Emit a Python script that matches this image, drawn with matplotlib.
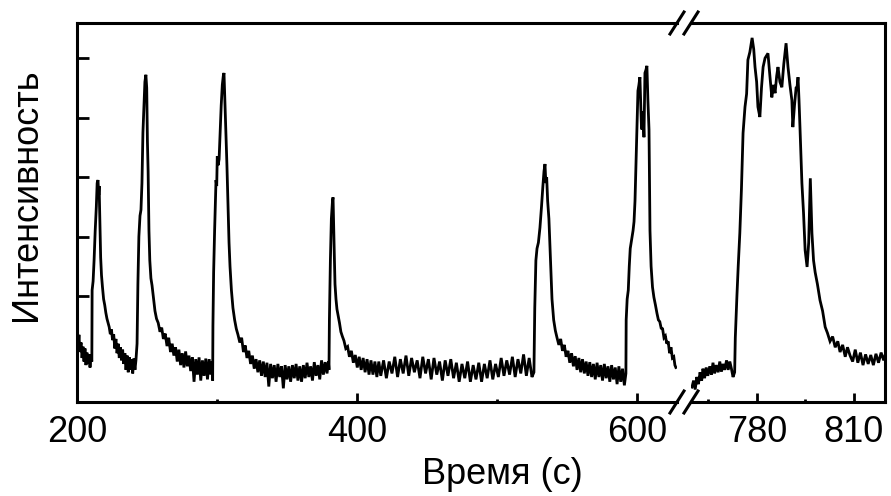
import matplotlib
matplotlib.use("Agg")
import matplotlib.pyplot as plt
from matplotlib.lines import Line2D

plt.rcParams['font.family'] = ['Liberation Sans', 'DejaVu Sans']

# ---- data: (time s, intensity a.u.) ----
left_trace = [
    (200.0, 1.30), (200.7, 1.12), (201.4, 1.35), (202.1, 1.06), (202.9, 1.22), (203.6, 0.96),
    (204.3, 1.15), (205.0, 0.90), (205.7, 1.12), (206.4, 0.84), (207.1, 1.05), (207.9, 0.86),
    (208.6, 1.02), (209.3, 0.80), (210.0, 0.98), (210.6, 0.90),
    (210.8, 2.10), (211.5, 2.25), (212.2, 2.60), (213.0, 3.10), (213.8, 3.50), (214.4, 3.90),
    (215.0, 3.95), (215.5, 3.70), (215.8, 3.85), (216.4, 3.20), (216.9, 2.65), (217.5, 2.35),
    (218.2, 2.15), (219.0, 1.95), (219.8, 1.85), (220.6, 1.72), (221.4, 1.62), (222.2, 1.55),
    (223.0, 1.48), (223.8, 1.36), (224.6, 1.44), (225.4, 1.26), (226.2, 1.36), (227.0, 1.12),
    (227.8, 1.28), (228.6, 1.04), (229.4, 1.20), (230.2, 0.96), (231.0, 1.14), (231.8, 0.92),
    (232.6, 1.10), (233.4, 0.86), (234.2, 1.04), (235.0, 0.76), (235.8, 1.00), (236.6, 0.72),
    (237.4, 0.97), (238.2, 0.76), (239.0, 0.94), (239.8, 0.70), (240.6, 0.95), (241.4, 0.76),
    (242.1, 0.92), (242.9, 1.20),
    (243.5, 2.20), (244.2, 3.00), (245.0, 3.35), (245.7, 3.45), (246.4, 3.90), (247.1, 4.75),
    (247.8, 5.20), (248.5, 5.60), (249.2, 5.72), (249.8, 5.50), (250.3, 4.60), (250.8, 4.10),
    (251.4, 3.10), (252.0, 2.60), (252.8, 2.30), (253.6, 2.18), (254.6, 1.98), (255.7, 1.75),
    (256.8, 1.62), (258.0, 1.55), (259.3, 1.40), (260.5, 1.47), (261.7, 1.28), (263.0, 1.37),
    (264.3, 1.16), (265.5, 1.30), (266.8, 1.06), (268.0, 1.20), (269.2, 1.00), (270.4, 1.14),
    (271.6, 0.90), (272.8, 1.10), (274.0, 0.84), (275.2, 1.04), (276.4, 0.80), (277.6, 1.07),
    (278.8, 0.82), (280.0, 1.00), (281.2, 0.74), (282.4, 0.97), (283.6, 0.56), (284.8, 0.94),
    (286.0, 0.68), (287.2, 0.97), (288.4, 0.58), (289.6, 0.92), (290.8, 0.66), (292.0, 0.95),
    (293.2, 0.60), (294.4, 0.94), (295.6, 0.68), (296.6, 0.90), (296.9, 0.58),
    (297.1, 1.50), (297.6, 2.40), (298.3, 3.10), (299.0, 3.70), (299.3, 3.95), (299.8, 3.85),
    (300.2, 4.35), (300.8, 4.20), (301.5, 4.30), (302.2, 4.70), (303.0, 5.20), (303.8, 5.55),
    (304.5, 5.70), (305.0, 5.75), (305.6, 5.30), (306.3, 4.80), (307.1, 4.20), (307.9, 3.50),
    (308.6, 2.90), (309.3, 2.50), (310.3, 2.10), (311.4, 1.80), (312.6, 1.60), (313.8, 1.45),
    (315.0, 1.35), (316.3, 1.22), (317.6, 1.30), (318.9, 1.06), (320.2, 1.17), (321.4, 0.96),
    (322.7, 1.08), (324.0, 0.86), (325.3, 1.00), (326.6, 0.78), (327.9, 0.94), (329.2, 0.72),
    (330.5, 0.92), (331.8, 0.66), (333.1, 0.90), (334.4, 0.64), (335.7, 0.88), (337.0, 0.48),
    (338.3, 0.86), (339.6, 0.62), (340.9, 0.84), (342.2, 0.56), (343.5, 0.86), (344.8, 0.64),
    (346.1, 0.82), (347.4, 0.45), (348.7, 0.84), (350.0, 0.60), (351.3, 0.82), (352.6, 0.56),
    (353.9, 0.84), (355.2, 0.62), (356.5, 0.86), (357.8, 0.58), (359.1, 0.82), (360.4, 0.56),
    (361.7, 0.84), (363.0, 0.62), (364.3, 0.88), (365.6, 0.64), (366.9, 0.82), (368.2, 0.58),
    (369.5, 0.89), (370.8, 0.66), (372.1, 0.84), (373.4, 0.60), (374.7, 0.92), (376.0, 0.68),
    (377.3, 0.89), (378.6, 0.70), (379.6, 0.90), (380.0, 0.76),
    (380.3, 1.60), (381.0, 2.60), (381.7, 3.30), (382.5, 3.60), (382.9, 3.66), (383.4, 3.10),
    (383.8, 2.70), (384.3, 2.20), (385.0, 1.95), (385.7, 1.78), (386.5, 1.68), (387.5, 1.55),
    (388.5, 1.40), (389.6, 1.32), (390.7, 1.25), (392.0, 1.12), (393.3, 1.15), (394.6, 0.98),
    (396.0, 1.08), (397.4, 0.88), (398.8, 1.01), (400.2, 0.80), (401.6, 0.98), (403.0, 0.76),
    (404.4, 0.96), (405.8, 0.72), (407.2, 0.94), (408.6, 0.68), (410.0, 0.92), (411.4, 0.68),
    (412.8, 0.90), (414.2, 0.64), (415.6, 0.90),
    (417.0, 0.66), (419.0, 0.92), (421.0, 0.62), (423.0, 0.90), (425.0, 0.70), (427.0, 0.98),
    (429.0, 0.64), (431.0, 0.94), (433.0, 0.70), (435.0, 1.00), (437.0, 0.66), (439.0, 0.96),
    (441.0, 0.72), (443.0, 0.92), (445.0, 0.62), (447.0, 0.98), (449.0, 0.70), (451.0, 0.94),
    (453.0, 0.60), (455.0, 0.96), (457.0, 0.68), (459.0, 0.90), (461.0, 0.58), (463.0, 0.92),
    (465.0, 0.66), (467.0, 0.94), (469.0, 0.62), (471.0, 0.88), (473.0, 0.56), (475.0, 0.86),
    (477.0, 0.62), (479.0, 0.90), (481.0, 0.56), (483.0, 0.84), (485.0, 0.60), (487.0, 0.88),
    (489.0, 0.56), (491.0, 0.86), (493.0, 0.62), (495.0, 0.92), (497.0, 0.60), (499.0, 0.86),
    (501.0, 0.64), (503.0, 0.96), (505.0, 0.66), (507.0, 0.92), (509.0, 0.68), (511.0, 0.98),
    (513.0, 0.64), (515.0, 0.94), (517.0, 0.70), (519.0, 1.02), (521.0, 0.66), (523.0, 0.96),
    (525.0, 0.64), (526.4, 0.72),
    (527.0, 1.80), (527.8, 2.60), (528.6, 2.80), (529.6, 2.90), (530.7, 3.15), (531.8, 3.50),
    (532.8, 3.85), (533.6, 4.10), (534.3, 4.22), (534.9, 3.90), (535.5, 4.00), (536.2, 3.60),
    (537.1, 3.30), (538.2, 2.60), (539.3, 1.95), (540.5, 1.60), (541.7, 1.42), (542.9, 1.30),
    (544.2, 1.18), (545.5, 1.28), (546.8, 1.08), (548.1, 1.18), (549.4, 0.98), (550.7, 1.08),
    (552.0, 0.88), (553.3, 1.04), (554.6, 0.82), (555.9, 0.99), (557.2, 0.76), (558.5, 0.96),
    (559.8, 0.72), (561.1, 0.94), (562.4, 0.70), (563.7, 0.90), (565.0, 0.66), (566.3, 0.89),
    (567.6, 0.64), (568.9, 0.86), (570.2, 0.60), (571.5, 0.88), (572.8, 0.64), (574.1, 0.84),
    (575.4, 0.58), (576.7, 0.86), (578.0, 0.62), (579.3, 0.82), (580.6, 0.56), (581.9, 0.84),
    (583.2, 0.60), (584.5, 0.80), (585.8, 0.52), (587.1, 0.82), (588.4, 0.56), (589.7, 0.78),
    (591.0, 0.50), (592.1, 0.70),
    (592.3, 1.60), (593.0, 1.95), (593.8, 2.10), (594.5, 2.50), (595.2, 2.80), (596.2, 2.95),
    (597.2, 3.10), (597.9, 3.25), (598.6, 3.60), (599.3, 4.20), (600.0, 4.80), (600.7, 5.45),
    (601.4, 5.55), (602.1, 5.68), (602.7, 5.20), (603.2, 4.85), (603.6, 4.80), (604.3, 5.10),
    (605.0, 4.67), (605.7, 5.75), (606.4, 5.80), (607.1, 5.87), (607.8, 5.30), (608.6, 4.80),
    (609.3, 3.10), (610.1, 2.50), (611.1, 2.15), (612.1, 1.98), (613.2, 1.85), (614.3, 1.71),
    (615.3, 1.60), (616.3, 1.57), (617.3, 1.46), (618.3, 1.45), (619.3, 1.30), (620.3, 1.33),
    (621.3, 1.20), (622.3, 1.24), (623.3, 1.04), (624.3, 1.14), (625.3, 0.96), (626.3, 0.98),
    (627.1, 0.84), (627.8, 0.80),
]

right_trace = [
    (759.9, 0.47), (760.4, 0.58), (760.9, 0.43), (761.4, 0.64), (761.9, 0.52), (762.4, 0.72),
    (762.9, 0.58), (763.3, 0.78), (763.8, 0.62), (764.3, 0.80), (764.8, 0.66), (765.4, 0.82),
    (765.9, 0.68), (766.4, 0.88), (766.9, 0.70), (767.4, 0.84), (768.0, 0.72), (768.5, 0.90),
    (769.0, 0.73), (769.5, 0.86), (770.0, 0.76), (770.6, 0.92), (771.1, 0.76), (771.6, 0.90),
    (772.1, 0.78), (772.6, 0.64), (773.1, 0.72),
    (773.3, 1.30), (773.8, 2.00), (774.2, 2.50), (774.7, 3.06), (775.2, 3.80), (775.7, 4.74),
    (776.3, 5.18), (776.8, 5.40), (777.2, 5.97), (777.8, 6.10), (778.5, 6.34), (779.0, 6.15),
    (779.4, 5.85), (779.9, 5.60), (780.3, 5.18), (780.9, 5.01), (781.4, 5.50), (781.9, 5.85),
    (782.5, 6.00), (783.4, 6.08), (784.0, 5.70), (784.6, 5.34), (785.1, 5.55), (785.6, 5.41),
    (786.1, 5.70), (786.5, 5.85), (787.1, 5.60), (787.7, 5.51), (788.3, 5.90), (789.0, 6.25),
    (789.6, 5.85), (790.2, 5.55), (790.8, 5.29), (791.1, 4.84), (791.6, 5.20), (792.1, 5.50),
    (792.4, 5.51), (792.7, 5.68), (793.0, 5.30), (793.3, 4.84), (793.9, 3.90), (794.4, 3.40),
    (794.9, 2.77), (795.5, 2.49), (796.0, 2.90), (796.5, 3.98), (797.0, 3.06), (797.5, 2.60),
    (798.0, 2.40), (798.7, 2.20), (799.5, 1.93), (800.3, 1.75), (801.1, 1.48), (801.8, 1.38),
    (802.6, 1.24), (803.4, 1.32), (804.2, 1.14), (805.0, 1.24), (805.7, 1.06), (806.5, 1.18),
    (807.3, 0.98), (808.0, 1.14), (808.8, 1.00), (809.6, 0.90), (810.4, 1.10), (811.2, 0.88),
    (812.0, 1.05), (812.8, 0.84), (813.6, 1.02), (814.4, 0.86), (815.2, 1.01), (816.0, 0.84),
    (816.8, 1.03), (817.6, 0.88), (818.4, 1.05), (819.2, 0.92), (819.6, 1.00),
]

left_major = [200, 400, 600]
left_minor = [300, 500]
right_major = [780, 810]
right_minor = [765, 795]
y_ticks = [2, 3, 4, 5, 6]
x_label = "Время (с)"
y_label = "Интенсивность"

# ---- figure ----
W, H = 891, 496
fig = plt.figure(figsize=(W / 100, H / 100), dpi=100)

def fx(px):
    return px / W

def fy(py):
    return 1 - py / H

top, bot = 23, 402
axL = fig.add_axes([fx(77), fy(bot), fx(677) - fx(77), fy(top) - fy(bot)])
axR = fig.add_axes([fx(691), fy(bot), fx(885) - fx(691), fy(top) - fy(bot)])

lw_spine = 2.2
for ax, data, lim, maj, mino in [
    (axL, left_trace, (200, 628.6), left_major, left_minor),
    (axR, right_trace, (759.6, 819.6), right_major, right_minor),
]:
    t = [p[0] for p in data]
    v = [p[1] for p in data]
    ax.plot(t, v, color='black', lw=2.0, solid_joinstyle='miter')
    ax.set_xlim(*lim)
    ax.set_ylim(0.22, 6.59)
    ax.set_xticks(maj)
    ax.set_xticks(mino, minor=True)
    ax.tick_params(axis='x', which='major', direction='in', length=6.5, width=2.0,
                   labelsize=26, pad=9, top=False)
    ax.tick_params(axis='x', which='minor', direction='in', length=2.5, width=2.0, top=False)
    for s in ax.spines.values():
        s.set_linewidth(lw_spine)

axL.spines['right'].set_visible(False)
axR.spines['left'].set_visible(False)
axL.set_yticks(y_ticks)
axL.set_yticklabels([])
axL.tick_params(axis='y', which='major', direction='in', length=8.5, width=2.0, right=False)
axR.set_yticks([])

# break marks
for cx in (677, 691):
    for cy in (top, bot):
        fig.add_artist(Line2D([fx(cx - 7), fx(cx + 7)], [fy(cy + 11), fy(cy - 11)],
                              color='black', lw=2.2, transform=fig.transFigure))

fig.text(fx(502), fy(474), x_label, ha='center', va='center', fontsize=26)
fig.text(fx(27), fy(195), y_label, ha='center', va='center', rotation=90, fontsize=26)

fig.savefig("out.png", dpi=100)
